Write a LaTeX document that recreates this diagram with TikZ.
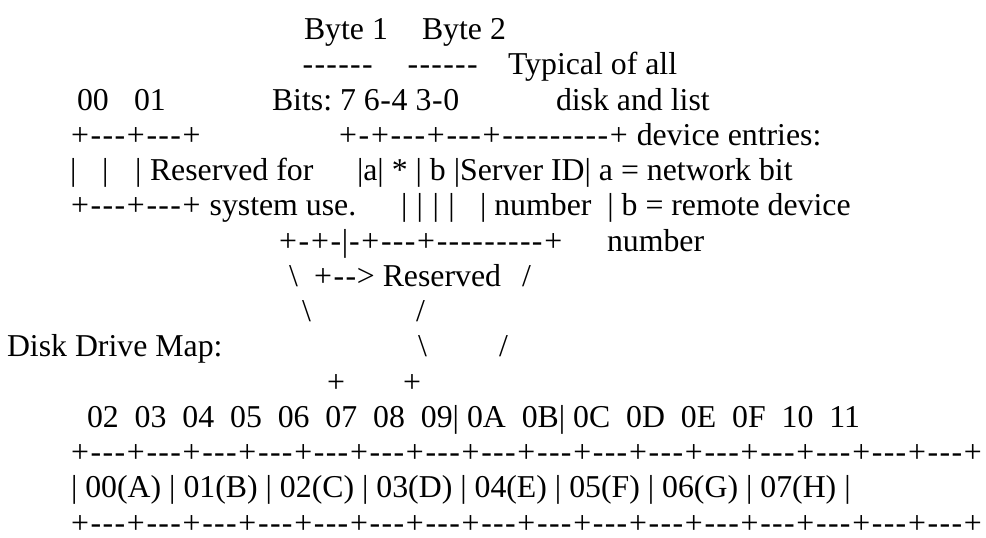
\documentclass[tikz,border=0pt]{standalone}
\usepackage{fontspec}
\setmainfont{Liberation Serif}
% ruler glyphs: hyphen and plus set on a fixed, slightly wider pitch
\newcommand\hy{\makebox[11.9pt]{-}}
\newcommand\pl{\makebox[20.1pt]{+}}
\newcommand\cellrun{\hy\hy\hy\pl}
\newcommand\fourcells{\cellrun\cellrun\cellrun\cellrun}
\newcommand\ninehy{\hy\hy\hy\hy\hy\hy\hy\hy\hy}
\newcommand\bs{\textbackslash}
\newcommand\barsep{\hspace{9.4pt}}
\begin{document}
\begin{tikzpicture}[x=1pt,y=-1pt,
  txt/.style={anchor=base west,inner sep=0pt,outer sep=0pt,
    font=\fontsize{31.8pt}{35pt}\selectfont\frenchspacing}]
\fill[white] (0,0) rectangle (986,538);
\useasboundingbox (0,0) rectangle (986,538);

% header: byte layout
\node[txt] (byteA) at (304,39.5) {Byte~1};
\node[txt] (byteB) at (422,39.5) {Byte~2};
\node[txt] (dashA) at (302,74.8) {\hy\hy\hy\hy\hy\hy};
\node[txt] (dashB) at (407,74.8) {\hy\hy\hy\hy\hy\hy};
\node[txt] (typical) at (508,74.8) {Typical of all};

\node[txt] (idxA) at (77,110) {00};
\node[txt] (idxB) at (134,110) {01};
\node[txt] (bits) at (272,110) {Bits:~7~6\hy4~3\hy0};
\node[txt] (disklist) at (556,110) {disk and list};

% reserved pair and entry box, top edge
\node[txt] (resTop) at (70,145.3) {\pl\cellrun\cellrun};
\node[txt] (entTop) at (338,145.3) {\pl\hy\pl\hy\hy\hy\pl\hy\hy\hy\pl\ninehy\pl~device entries:};

% middle row
\node[txt] (barA) at (70,180.5) {|};
\node[txt] (barB) at (102,180.5) {|};
\node[txt] (barC) at (135,180.5) {|};
\node[txt] (resfor) at (150,180.5) {Reserved for};
\node[txt] (entMid) at (357,180.5) {|a|~*~|~b~|Server~ID|~a~=~network~bit};

% bottom edges
\node[txt] (resBot) at (70,215.8) {\pl\cellrun\cellrun~system use.};
\node[txt] (bitBars) at (401,215.8) {|\barsep|\barsep|\barsep|};
\node[txt] (entLow) at (480,215.8) {|~number~~|~b~=~remote~device};

\node[txt] (entBot) at (278,251) {\pl\hy\pl\hy|\hy\pl\hy\hy\hy\pl\ninehy\pl};
\node[txt] (numlbl) at (607,251) {number};

% funnel down to the map
\node[txt] (slA) at (289,286.3) {\bs};
\node[txt] (arrow) at (313,286.3) {\pl\hy\hy>~Reserved};
\node[txt] (srA) at (522,286.3) {/};

\node[txt] (slB) at (302,321.5) {\bs};
\node[txt] (srB) at (416,321.5) {/};

\node[txt] (mapname) at (7,356.8) {Disk Drive Map:};
\node[txt] (slC) at (418,356.8) {\bs};
\node[txt] (srC) at (499,356.8) {/};

\node[txt] (tipA) at (326,392) {\pl};
\node[txt] (tipB) at (402,392) {\pl};

% drive map table
\node[txt] (offsets) at (87,427.3)
  {02~~03~~04~~05~~06~~07~~08~~09|~0A~~0B|~0C~~0D~~0E~~0F~~10~~11};
\node[txt] (mapTop) at (70,462.5) {\pl\fourcells\fourcells\fourcells\fourcells};
\node[txt] (drives) at (71,497.8)
  {|~00(A)~|~01(B)~|~02(C)~|~03(D)~|~04(E)~|~05(F)~|~06(G)~|~07(H)~|};
\node[txt] (mapBot) at (70,533) {\pl\fourcells\fourcells\fourcells\fourcells};
\end{tikzpicture}
\end{document}
